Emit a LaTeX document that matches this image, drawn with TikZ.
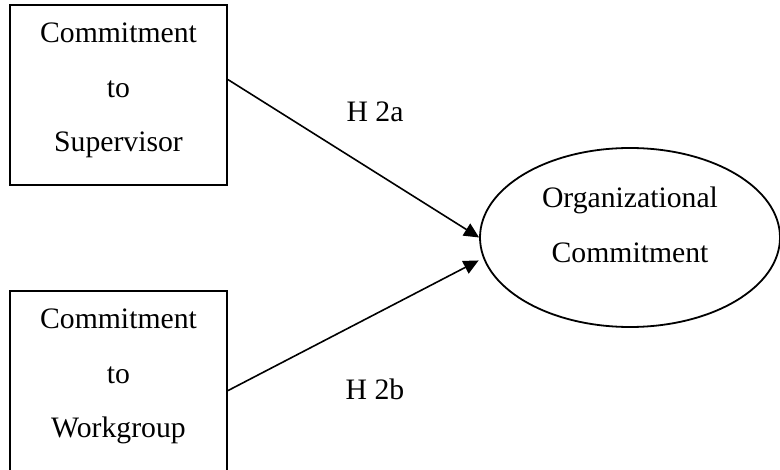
\documentclass[tikz,border=0pt]{standalone}
\usepackage{fontspec}
\setmainfont{Liberation Serif}
\usetikzlibrary{arrows.meta,shapes.geometric,positioning}

\begin{document}
\begin{tikzpicture}[x=1pt,y=-1pt,
    every node/.style={font=\fontsize{29.7}{54.5}\selectfont,align=center},
    box/.style={draw,rectangle,line width=2pt,minimum width=217pt,
      minimum height=180pt,inner sep=0pt,text depth=15pt},
    construct/.style={draw,ellipse,line width=1.8pt,minimum width=300pt,
      minimum height=179pt,inner sep=0pt,text depth=26pt},
    hyplabel/.style={inner sep=0pt},
    hyp/.style={-{Triangle[length=15pt,width=14pt]},line width=1.6pt}]
  \useasboundingbox (0,0) rectangle (780,470);
    \node [box] (sup) at (118.5,95) {Commitment\\to\\Supervisor}; \node
    [box, below=104pt of sup] (wg) {Commitment\\to\\Workgroup}; \node
    [construct] (org) at (630,237.5) {Organizational\\Commitment};
    \node [hyplabel] (h2a) at (375,112) {H 2a}; \node [hyplabel] (h2b)
    at (375,389) {H 2b};

    \path [hyp] (sup.8) edge (org.west) (wg.-5) edge [shorten >=5pt]
    (org.188);
  \end{tikzpicture}
\end{document}
